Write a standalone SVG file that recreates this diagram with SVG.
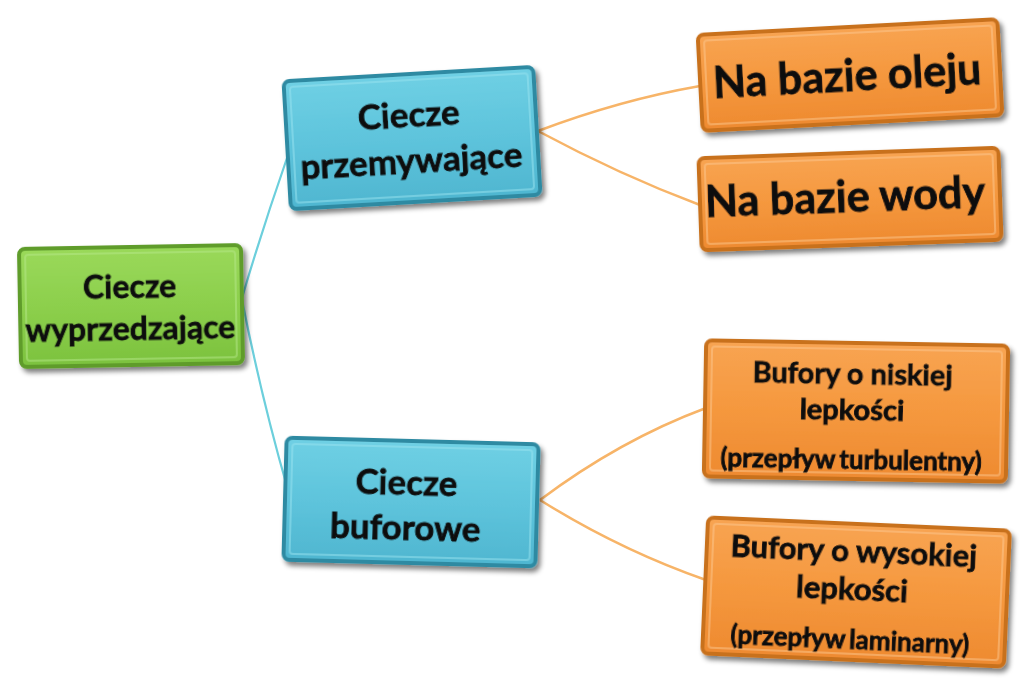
<svg xmlns="http://www.w3.org/2000/svg" width="1024" height="698" viewBox="0 0 1024 698">
<defs>
<linearGradient id="gG" x1="0" y1="0" x2="0" y2="1"><stop offset="0" stop-color="#9ad95a"/><stop offset="0.5" stop-color="#8ccf4c"/><stop offset="1" stop-color="#7cc23e"/></linearGradient>
<linearGradient id="gB" x1="0" y1="0" x2="0" y2="1"><stop offset="0" stop-color="#6fd0e4"/><stop offset="0.5" stop-color="#5ec4dc"/><stop offset="1" stop-color="#4fb6d0"/></linearGradient>
<linearGradient id="gO" x1="0" y1="0" x2="0" y2="1"><stop offset="0" stop-color="#f8a452"/><stop offset="0.5" stop-color="#f5983e"/><stop offset="1" stop-color="#ee8a30"/></linearGradient>
<filter id="sh" x="-10%" y="-10%" width="125%" height="130%"><feGaussianBlur in="SourceAlpha" stdDeviation="2.5"/><feOffset dx="3" dy="4"/><feComponentTransfer><feFuncA type="linear" slope="0.5"/></feComponentTransfer><feMerge><feMergeNode/><feMergeNode in="SourceGraphic"/></feMerge></filter>
</defs>
<style>
.t{font-family:Lato,"Liberation Sans",sans-serif;font-weight:700;fill:#111;stroke:#111;stroke-width:0.9;text-anchor:middle}
.g{fill:url(#gG);stroke:#5e9c2c;stroke-width:4}
.b{fill:url(#gB);stroke:#2f8aa2;stroke-width:4}
.o{fill:url(#gO);stroke:#c8711f;stroke-width:4}
.in{fill:none;stroke-width:2;stroke-opacity:0.5}
.cc{fill:none;stroke:#6ccfdc;stroke-width:2.2}
.co{fill:none;stroke:#f7b468;stroke-width:2.5}
.s{word-spacing:-2px}
</style>
<rect width="1024" height="698" fill="#ffffff"/>
<g id="connectors">
<path class="cc" d="M242 298 Q262 230 287 158"/>
<path class="cc" d="M242 300 Q262 400 288 490"/>
<path class="co" d="M538 131 Q620 100 700 86"/>
<path class="co" d="M538 131 Q620 175 700 205"/>
<path class="co" d="M540 500 Q620 440 706 408"/>
<path class="co" d="M540 500 Q620 550 706 580"/>
</g>
<g id="n-wyprzedzajace" transform="rotate(-1 131 306)" filter="url(#sh)">
<rect class="g" x="20" y="247" width="222" height="118" rx="6"/>
<rect class="in" x="26" y="253" width="210" height="106" rx="3" stroke="#b6e88a"/>
<text class="t" x="130" y="298" font-size="32">Ciecze</text>
<text class="t" x="130" y="340" font-size="32">wyprzedzające</text>
</g>
<g id="n-przemywajace" transform="rotate(-3.3 412 138)" filter="url(#sh)">
<rect class="b" x="287" y="74" width="250" height="128" rx="6"/>
<rect class="in" x="293" y="80" width="238" height="116" rx="3" stroke="#9ae4f0"/>
<text class="t" x="410" y="127" font-size="35">Ciecze</text>
<text class="t" x="410" y="173" font-size="35">przemywające</text>
</g>
<g id="n-buforowe" transform="rotate(1.5 411 502)" filter="url(#sh)">
<rect class="b" x="285" y="441" width="252" height="122" rx="6"/>
<rect class="in" x="291" y="447" width="240" height="110" rx="3" stroke="#9ae4f0"/>
<text class="t" x="406" y="495" font-size="35">Ciecze</text>
<text class="t" x="406" y="540" font-size="35">buforowe</text>
</g>
<g id="n-oleju" transform="rotate(-3 850 75)" filter="url(#sh)">
<rect class="o" x="700" y="27" width="300" height="96" rx="6"/>
<rect class="in" x="706" y="33" width="288" height="84" rx="3" stroke="#fcc890"/>
<text class="t" x="847" y="91" font-size="43">Na bazie oleju</text>
</g>
<g id="n-wody" transform="rotate(-2 850 199)" filter="url(#sh)">
<rect class="o" x="700" y="153" width="300" height="92" rx="6"/>
<rect class="in" x="706" y="159" width="288" height="80" rx="3" stroke="#fcc890"/>
<text class="t" x="845" y="212" font-size="43">Na bazie wody</text>
</g>
<g id="n-niskiej" transform="rotate(1 856 411)" filter="url(#sh)">
<rect class="o" x="705" y="343" width="302" height="136" rx="6"/>
<rect class="in" x="711" y="349" width="290" height="124" rx="3" stroke="#fcc890"/>
<text class="t" x="852" y="384" font-size="29">Bufory o niskiej</text>
<text class="t" x="852" y="420" font-size="29">lepkości</text>
<text class="t s" x="852" y="469" font-size="26">(przepływ turbulentny)</text>
</g>
<g id="n-wysokiej" transform="rotate(2.5 856 592)" filter="url(#sh)">
<rect class="o" x="705" y="524" width="302" height="136" rx="6"/>
<rect class="in" x="711" y="530" width="290" height="124" rx="3" stroke="#fcc890"/>
<text class="t" x="852" y="562" font-size="31">Bufory o wysokiej</text>
<text class="t" x="852" y="600" font-size="31">lepkości</text>
<text class="t s" x="852" y="649" font-size="26">(przepływ laminarny)</text>
</g>
</svg>
